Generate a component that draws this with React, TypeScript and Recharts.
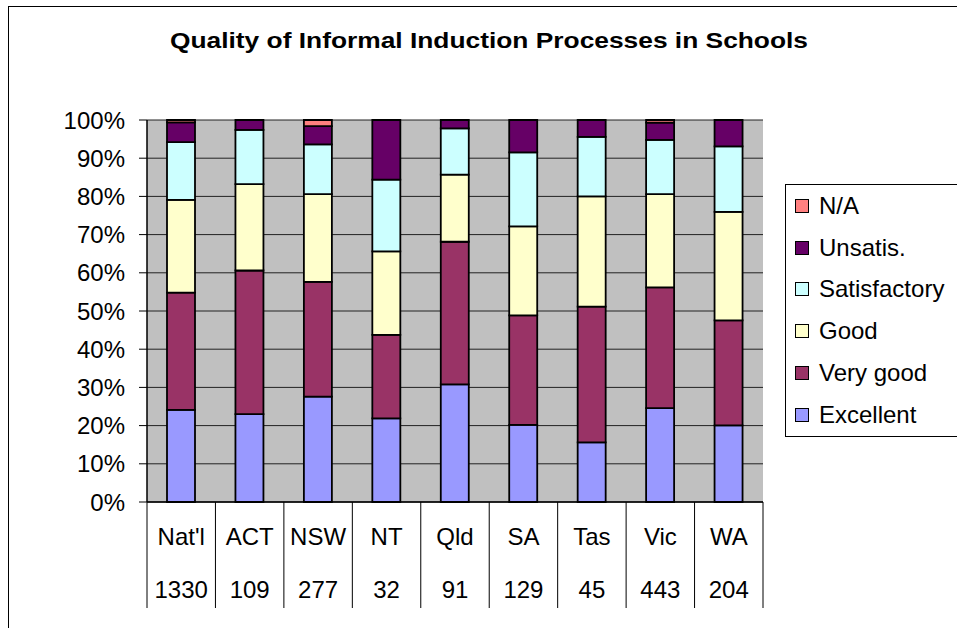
import { BarChart, Bar, XAxis, YAxis, CartesianGrid } from "recharts";

const categories = ["Nat'l", "ACT", "NSW", "NT", "Qld", "SA", "Tas", "Vic", "WA"];
const respondents = [1330, 109, 277, 32, 91, 129, 45, 443, 204];

// percent of respondents per rating, bottom of the stack first
const excellent = [24.1, 23.0, 27.6, 21.9, 30.8, 20.2, 15.6, 24.6, 20.1];
const veryGood = [30.7, 37.6, 30.0, 21.9, 37.4, 28.7, 35.6, 31.6, 27.5];
const good = [24.3, 22.6, 23.0, 21.9, 17.6, 23.3, 28.9, 24.4, 28.4];
const satisfactory = [15.1, 14.2, 13.0, 18.8, 12.1, 19.4, 15.6, 14.2, 17.2];
const unsatis = [5.2, 2.6, 4.8, 15.6, 2.2, 8.5, 4.4, 4.5, 6.9];
const notApplicable = [0.6, 0, 1.6, 0, 0, 0, 0, 0.7, 0];

const yTicks = [0, 0.1, 0.2, 0.3, 0.4, 0.5, 0.6, 0.7, 0.8, 0.9, 1];

const series = [
  { key: "exc", name: "Excellent", color: "#9999FF", values: excellent },
  { key: "vg", name: "Very good", color: "#993366", values: veryGood },
  { key: "good", name: "Good", color: "#FFFFCC", values: good },
  { key: "sat", name: "Satisfactory", color: "#CCFFFF", values: satisfactory },
  { key: "unsat", name: "Unsatis.", color: "#660066", values: unsatis },
  { key: "na", name: "N/A", color: "#FF8080", values: notApplicable },
];

const data = categories.map((name, i) => {
  const row: Record<string, string | number> = { name, n: respondents[i] };
  series.forEach((s) => {
    row[s.key] = s.values[i];
  });
  return row;
});

const FONT = "'Liberation Sans', Arial, sans-serif";

// two label rows (state, respondents) plus the divider lines between categories
const CategoryTick = (props: any) => {
  const { x, y, payload, index, width, visibleTicksCount } = props;
  const half = width / visibleTicksCount / 2;
  return (
    <g>
      <line x1={x - half} x2={x - half} y1={y} y2={y + 106} stroke="#000" strokeWidth={1} />
      {index === visibleTicksCount - 1 && (
        <line x1={x + half} x2={x + half} y1={y} y2={y + 106} stroke="#000" strokeWidth={1} />
      )}
      <text x={x} y={y + 35} dy="0.35em" textAnchor="middle" fontSize={24} fill="#000" fontFamily={FONT}>
        {payload.value}
      </text>
      <text x={x} y={y + 88} dy="0.35em" textAnchor="middle" fontSize={24} fill="#000" fontFamily={FONT}>
        {respondents[index]}
      </text>
    </g>
  );
};

export default function App() {
  return (
    <div
      style={{
        position: "absolute",
        left: 0,
        top: 0,
        width: 957,
        height: 628,
        overflow: "hidden",
        background: "#fff",
        fontFamily: FONT,
      }}
    >
      <div
        style={{
          position: "absolute",
          left: 8,
          top: 6,
          width: 1000,
          height: 700,
          border: "1px solid #000",
        }}
      />
      <svg width={957} height={80} style={{ position: "absolute", left: 0, top: 0 }}>
        <text
          x={489}
          y={48}
          textAnchor="middle"
          fontSize={22}
          fontWeight="bold"
          fontFamily={FONT}
          textLength={638}
          lengthAdjust="spacingAndGlyphs"
        >
          Quality of Informal Induction Processes in Schools
        </text>
      </svg>
      <div style={{ position: "absolute", left: 0, top: 0 }}>
        <BarChart
          width={957}
          height={628}
          data={data}
          stackOffset="expand"
          margin={{ top: 120, right: 194, bottom: 0, left: 0 }}
          barSize={28}
        >
          <CartesianGrid vertical={false} stroke="#222" fill="#C0C0C0" fillOpacity={1} />
          <XAxis
            dataKey="name"
            height={126}
            tickLine={false}
            tickSize={0}
            tickMargin={0}
            axisLine={{ stroke: "#000", strokeWidth: 1.5 }}
            tick={<CategoryTick />}
            interval={0}
          />
          <YAxis
            domain={[0, 1]}
            ticks={yTicks}
            width={147}
            tickSize={8}
            tickMargin={14}
            tickFormatter={(v) => `${Math.round(v * 100)}%`}
            axisLine={{ stroke: "#000", strokeWidth: 1.5 }}
            tickLine={{ stroke: "#000" }}
            tick={{ fontSize: 24, fill: "#000", fontFamily: FONT }}
          />
          <YAxis
            yAxisId="right"
            orientation="right"
            domain={[0, 1]}
            width={0}
            tick={false}
            tickLine={false}
            axisLine={{ stroke: "#808080", strokeWidth: 1.5 }}
          />
          {series.map((s) => (
            <Bar
              key={s.key}
              dataKey={s.key}
              name={s.name}
              stackId="a"
              fill={s.color}
              stroke="#000"
              strokeWidth={1.8}
              isAnimationActive={false}
            />
          ))}
        </BarChart>
      </div>
      <div
        style={{
          position: "absolute",
          left: 785,
          top: 184,
          width: 200,
          height: 251,
          border: "1px solid #000",
          background: "#fff",
        }}
      >
        {[...series].reverse().map((s) => (
          <div
            key={s.key}
            style={{ height: 41.8, display: "flex", alignItems: "center", paddingLeft: 9 }}
          >
            <span
              style={{
                display: "inline-block",
                width: 12,
                height: 12,
                border: "1px solid #000",
                background: s.color,
                marginRight: 10,
              }}
            />
            <span style={{ fontSize: 24, color: "#000", lineHeight: 1 }}>{s.name}</span>
          </div>
        ))}
      </div>
    </div>
  );
}
